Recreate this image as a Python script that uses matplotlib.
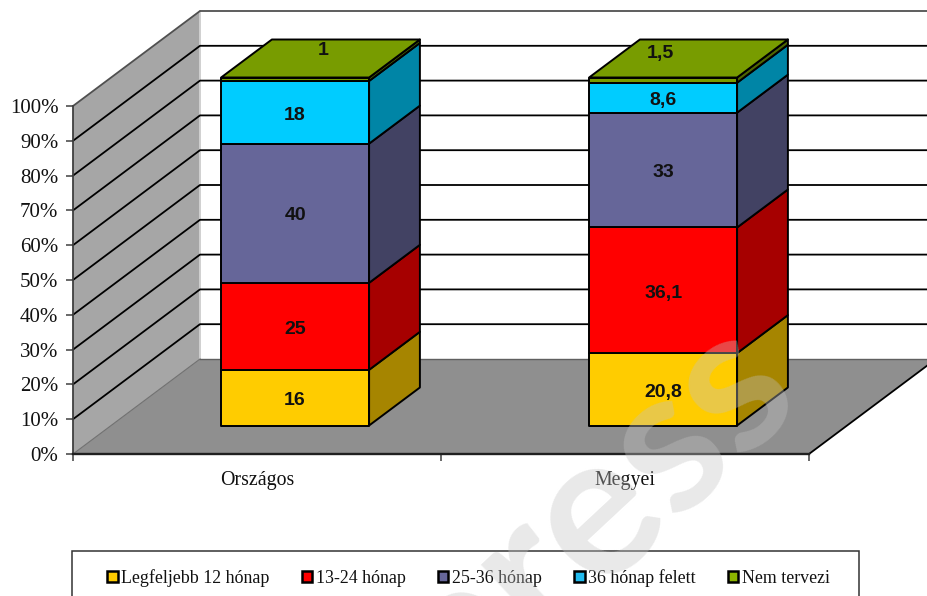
import matplotlib
matplotlib.use("Agg")
import matplotlib.pyplot as plt
from matplotlib.patches import Polygon, Rectangle
from matplotlib.lines import Line2D

W, H = 927, 596
categories = ["Országos", "Megyei"]
series_names = ["Legfeljebb 12 hónap", "13-24 hónap", "25-36 hónap", "36 hónap felett", "Nem tervezi"]
legfeljebb = [16, 20.8]
honap_13_24 = [25, 36.1]
honap_25_36 = [40, 33]
honap_36_felett = [18, 8.6]
nem_tervezi = [1, 1.5]
value_labels = [["16", "20,8"], ["25", "36,1"], ["40", "33"], ["18", "8,6"], ["1", "1,5"]]
series_values = [legfeljebb, honap_13_24, honap_25_36, honap_36_felett, nem_tervezi]
front_colors = ["#FFCC00", "#FF0000", "#666699", "#00CCFF", "#789C00"]
side_colors = ["#A68500", "#A60000", "#424263", "#0085A6", "#4E6600"]
legend_colors = ["#FFCC00", "#FF0000", "#666699", "#22BBEE", "#8CB400"]
yticks = list(range(0, 101, 10))

SERIF = "Liberation Serif"
SANS = "Liberation Sans"

fig = plt.figure(figsize=(W / 100, H / 100), dpi=100)
ax = fig.add_axes([73 / W, 1 - 454 / H, 736 / W, 348 / H])
ax.set_xlim(0, 2)
ax.set_ylim(0, 100)
ax.patch.set_visible(False)
for s in ax.spines.values():
    s.set_visible(False)

PX_X = 368.0   # px per category
PX_Y = 3.48    # px per percent
DEPTH_X = 127 / PX_X
DEPTH_Y = 95 / PX_Y
BAR_W = 148 / PX_X


def proj(x, v, d=0.0):
    return (x + d * DEPTH_X, v + d * DEPTH_Y)


def poly(points, **kw):
    kw.setdefault("clip_on", False)
    p = Polygon(points, closed=True, **kw)
    ax.add_patch(p)
    return p


# walls and floor
poly([proj(0, 0), proj(0, 0, 1), proj(0, 100, 1), proj(0, 100)],
     facecolor="#A6A6A6", edgecolor="none", zorder=1)
poly([proj(0, 0), proj(2, 0), proj(2, 0, 1), proj(0, 0, 1)],
     facecolor="#8F8F8F", edgecolor="none", zorder=2)
ax.add_line(Line2D(*zip(proj(0, 0, 1), proj(0, 100, 1)), color="#D0D0D0", lw=1.4, zorder=1.5, clip_on=False))
ax.add_line(Line2D(*zip(proj(0, 0), proj(0, 0, 1)), color="#707070", lw=0.8, zorder=3, clip_on=False))
ax.add_line(Line2D(*zip(proj(0, 0, 1), proj(2, 0, 1)), color="#606060", lw=1.0, zorder=3, clip_on=False))
ax.add_line(Line2D(*zip(proj(2, 0), proj(2, 0, 1)), color="black", lw=1.3, zorder=3, clip_on=False))

# gridlines
for t in yticks[1:]:
    a, b, c = proj(0, t), proj(0, t, 1), proj(2, t, 1)
    col = "#505050" if t == 100 else "black"
    ax.add_line(Line2D([a[0], b[0], c[0]], [a[1], b[1], c[1]], color=col, lw=1.3, zorder=1.6, clip_on=False))

# axes lines + ticks
ax.add_line(Line2D([0, 0], [0, 100], color="#404040", lw=1.3, zorder=4, clip_on=False))
ax.add_line(Line2D([0, 2], [0, 0], color="#202020", lw=1.7, zorder=4, clip_on=False))
ax.set_yticks(yticks)
ax.set_yticklabels([f"{t}%" for t in yticks], fontfamily=SERIF, fontsize=15, color="#111111")
ax.set_xticks([0, 1, 2])
ax.set_xticklabels(["", "", ""])
ax.tick_params(axis="y", length=5, width=1.1, color="#404040", pad=5.5)
ax.tick_params(axis="x", length=5, width=1.1, color="#404040")
for i, c in enumerate(categories):
    ax.annotate(c, (i + 0.5, 0), xytext=(0, -12), textcoords="offset points", ha="center", va="top",
                fontfamily=SERIF, fontsize=14.3, color="#111111")

# bars
EDGE = dict(edgecolor="black", linewidth=1.4, joinstyle="round")
for i in range(len(categories)):
    x0 = i + 0.5 - BAR_W / 2
    x1 = x0 + BAR_W
    base = 0.0
    for k, vals in enumerate(series_values):
        v = vals[i]
        top = base + v
        z = 5 + k * 0.1
        poly([proj(x0, base, .3), proj(x1, base, .3), proj(x1, top, .3), proj(x0, top, .3)],
             facecolor=front_colors[k], zorder=z, **EDGE)
        poly([proj(x1, base, .3), proj(x1, base, .7), proj(x1, top, .7), proj(x1, top, .3)],
             facecolor=side_colors[k], zorder=z, **EDGE)
        if k == len(series_values) - 1:
            poly([proj(x0, top, .3), proj(x1, top, .3), proj(x1, top, .7), proj(x0, top, .7)],
                 facecolor=front_colors[k], zorder=z, **EDGE)
            off = [(28 * .72, 20.5), (-3 * .72, 19.5)][i]
        else:
            off = (0, -2)
        cx, cy = proj((x0 + x1) / 2, base + v / 2, .3)
        ax.annotate(value_labels[k][i], (cx, cy), xytext=off, textcoords="offset points",
                    ha="center", va="center", fontfamily=SANS, fontweight="bold", fontsize=14,
                    color="#111111", zorder=8, annotation_clip=False)
        base = top

# legend
fig.add_artist(Rectangle((72 / W, 0 - 10 / H), 787 / W, (596 - 551 + 10) / H, transform=fig.transFigure,
                         facecolor="white", edgecolor="#333333", linewidth=1.1, zorder=0.5))
handles = [Rectangle((0, 0), 1, 1, facecolor=c, edgecolor="black", linewidth=1.8) for c in legend_colors]
leg = fig.legend(handles, series_names, ncol=5, loc="center left", bbox_to_anchor=(107 / W, 1 - 578 / H),
                 frameon=False, prop={"family": SERIF, "size": 12.9}, handlelength=0.6, handleheight=0.6,
                 handletextpad=0.2, columnspacing=1.78, borderpad=0, borderaxespad=0)
leg.set_zorder(3)
for t in leg.get_texts():
    t.set_color("#111111")

# watermark
fig.text(590 / W, 1 - 513 / H, "press", rotation=43, rotation_mode="anchor", ha="center", va="center",
         fontfamily="Lato", fontweight="bold", fontstyle="normal", fontsize=145, color="#C3C3C3", alpha=0.37, zorder=20)

fig.savefig("out.png", dpi=100)
